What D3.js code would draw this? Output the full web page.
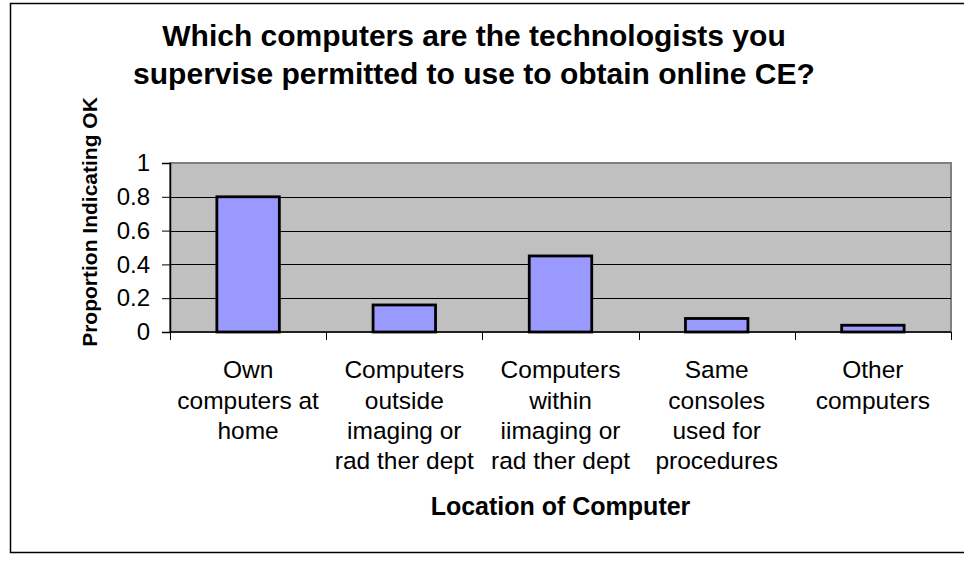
<!DOCTYPE html>
<html>
<head>
<meta charset="utf-8">
<script src="https://cdn.jsdelivr.net/npm/d3@7"></script>
<style>
  html, body { margin: 0; padding: 0; background: #fff; }
  svg { display: block; font-family: Arial, "Liberation Sans", sans-serif; }
</style>
</head>
<body>
<svg id="chart" width="964" height="565"></svg>
<script>
// Survey results: share of supervisors indicating each computer location is OK
const categories = [
  "Own computers at home",
  "Computers outside imaging or rad ther dept",
  "Computers within iimaging or rad ther dept",
  "Same consoles used for procedures",
  "Other computers"
];
const categoryLines = [
  ["Own", "computers at", "home"],
  ["Computers", "outside", "imaging or", "rad ther dept"],
  ["Computers", "within", "iimaging or", "rad ther dept"],
  ["Same", "consoles", "used for", "procedures"],
  ["Other", "computers"]
];
const values = [0.80, 0.16, 0.45, 0.08, 0.04];
const yTicks = [0, 0.2, 0.4, 0.6, 0.8, 1];
const titleLines = [
  "Which computers are the technologists you",
  "supervise permitted to use to obtain online CE?"
];
const xTitle = "Location of Computer";
const yTitle = "Proportion Indicating OK";

const svg = d3.select("#chart");
const plot = { left: 170, right: 951, top: 163, bottom: 332 };

// Outer chart frame
svg.append("rect")
  .attr("x", 10.5).attr("y", 3.5)
  .attr("width", 970).attr("height", 549)
  .attr("fill", "#fff").attr("stroke", "#000").attr("stroke-width", 1.5);

const x = d3.scaleBand()
  .domain(categories)
  .range([plot.left, plot.right])
  .paddingInner(0.6)
  .paddingOuter(0.3);

const y = d3.scaleLinear()
  .domain([0, 1])
  .range([plot.bottom, plot.top]);

// Plot area background
svg.append("rect")
  .attr("x", plot.left).attr("y", plot.top)
  .attr("width", plot.right - plot.left).attr("height", plot.bottom - plot.top)
  .attr("fill", "#c0c0c0")
  .attr("stroke", "#808080").attr("stroke-width", 2);

// Horizontal gridlines
svg.append("g")
  .selectAll("line")
  .data(yTicks.filter(d => d > 0 && d < 1))
  .join("line")
  .attr("x1", plot.left).attr("x2", plot.right)
  .attr("y1", d => Math.round(y(d)) + 0.5).attr("y2", d => Math.round(y(d)) + 0.5)
  .attr("stroke", "#000").attr("stroke-width", 1);

// Bars
svg.append("g")
  .selectAll("rect")
  .data(values)
  .join("rect")
  .attr("x", (d, i) => x(categories[i]))
  .attr("y", d => y(d))
  .attr("width", x.bandwidth())
  .attr("height", d => y(0) - y(d))
  .attr("fill", "#9999ff")
  .attr("stroke", "#000")
  .attr("stroke-width", 2.8);

// Y axis
const yAxis = d3.axisLeft(y)
  .tickValues(yTicks)
  .tickFormat(d3.format("~g"))
  .tickSize(8)
  .tickPadding(12);
const yg = svg.append("g")
  .attr("transform", `translate(${plot.left},0)`)
  .call(yAxis);
yg.select(".domain").attr("stroke", "#000").attr("stroke-width", 1.5);
yg.selectAll(".tick line").attr("stroke", "#000");
yg.selectAll(".tick text")
  .attr("font-size", 24)
  .attr("fill", "#000")
  .attr("font-family", "Arial, 'Liberation Sans', sans-serif");

// X axis: ticks at category boundaries
const boundaries = categories.map((c, i) => plot.left + i * x.step());
boundaries.push(plot.right);
const xg = svg.append("g");
xg.append("line")
  .attr("x1", plot.left).attr("x2", plot.right)
  .attr("y1", plot.bottom).attr("y2", plot.bottom)
  .attr("stroke", "#000").attr("stroke-width", 1.5);
xg.selectAll("line.tick")
  .data(boundaries)
  .join("line")
  .attr("class", "tick")
  .attr("x1", d => Math.round(d) + 0.5).attr("x2", d => Math.round(d) + 0.5)
  .attr("y1", plot.bottom).attr("y2", plot.bottom + 8)
  .attr("stroke", "#000");

// Category labels (wrapped)
const lineYs = [378, 409, 439, 469];
const labelG = svg.append("g")
  .attr("font-size", 24.5)
  .attr("text-anchor", "middle")
  .attr("fill", "#000");
categories.forEach((c, i) => {
  const t = labelG.append("text");
  categoryLines[i].forEach((ln, j) => {
    t.append("tspan")
      .attr("x", x(c) + x.bandwidth() / 2)
      .attr("y", lineYs[j])
      .text(ln);
  });
});

// Chart title
svg.append("g")
  .attr("font-size", 30)
  .attr("font-weight", "bold")
  .attr("text-anchor", "middle")
  .selectAll("text")
  .data(titleLines)
  .join("text")
  .attr("x", 474)
  .attr("y", (d, i) => 46 + i * 38)
  .text(d => d);

// Axis titles
svg.append("text")
  .attr("x", (plot.left + plot.right) / 2)
  .attr("y", 515)
  .attr("text-anchor", "middle")
  .attr("font-size", 25)
  .attr("font-weight", "bold")
  .text(xTitle);

svg.append("text")
  .attr("transform", "translate(97,222) rotate(-90)")
  .attr("text-anchor", "middle")
  .attr("font-size", 21)
  .attr("font-weight", "bold")
  .text(yTitle);
</script>
</body>
</html>
